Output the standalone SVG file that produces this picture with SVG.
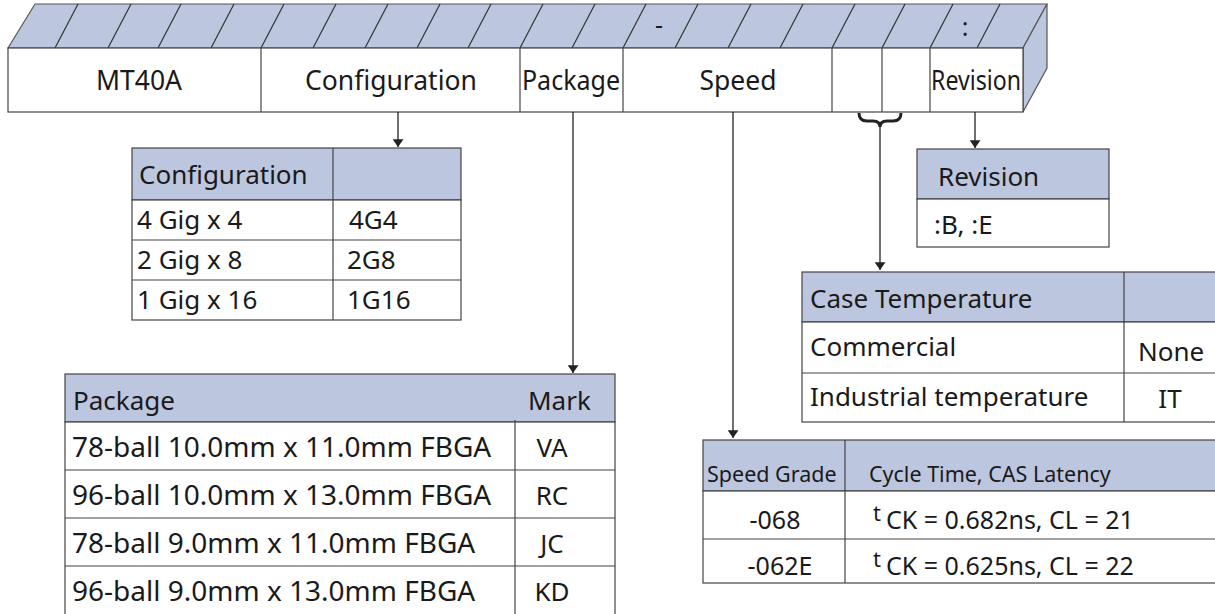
<svg xmlns="http://www.w3.org/2000/svg" width="1215" height="614" viewBox="0 0 1215 614">
<style>
  text { font-family: "Noto Sans", "Open Sans", sans-serif; fill: #1a1a1a; }
  .band { fill: #bdc6df; stroke: #555; stroke-width: 1.2; }
  .slash { stroke: #333; stroke-width: 1.2; fill: none; }
  .cell { fill: #ffffff; stroke: #444; stroke-width: 1.2; }
  .hdr { fill: #bdc6df; stroke: #444; stroke-width: 1.2; }
  .ln { stroke: #444; stroke-width: 1.2; fill: none; }
  .conn { stroke: #222; stroke-width: 1.3; fill: none; }
  .f25 { font-size: 25px; }
  .fb { font-size: 26.5px; }
  .f26 { font-size: 26px; }
  .f27 { font-size: 27px; }
  .f28 { font-size: 28px; }
  .f21 { font-size: 21.5px; }
  .mid { text-anchor: middle; }
</style>
<defs>
  <marker id="arr" viewBox="0 0 10 14" refX="10" refY="7" markerWidth="8" markerHeight="11" markerUnits="userSpaceOnUse" orient="auto">
    <path d="M0,0 L10,7 L0,14 Z" fill="#222"/>
  </marker>
</defs>

<g id="part-number-bar">
  <polygon class="band" points="8,48 35,4 1047,4 1023,48"/>
  <polygon class="band" points="1023,48 1047,4 1047,68 1023,112"/>
  <g class="slash">
    <line x1="55" y1="48" x2="78" y2="4"/>
    <line x1="108" y1="48" x2="131" y2="4"/>
    <line x1="158" y1="48" x2="181" y2="4"/>
    <line x1="211" y1="48" x2="234" y2="4"/>
    <line x1="261" y1="48" x2="284" y2="4"/>
    <line x1="313" y1="48" x2="336" y2="4"/>
    <line x1="365" y1="48" x2="388" y2="4"/>
    <line x1="417" y1="48" x2="440" y2="4"/>
    <line x1="468" y1="48" x2="491" y2="4"/>
    <line x1="520" y1="48" x2="543" y2="4"/>
    <line x1="572" y1="48" x2="595" y2="4"/>
    <line x1="623" y1="48" x2="646" y2="4"/>
    <line x1="675" y1="48" x2="698" y2="4"/>
    <line x1="728" y1="48" x2="751" y2="4"/>
    <line x1="780" y1="48" x2="803" y2="4"/>
    <line x1="832" y1="48" x2="855" y2="4"/>
    <line x1="882" y1="48" x2="905" y2="4"/>
    <line x1="930" y1="48" x2="953" y2="4"/>
    <line x1="977" y1="48" x2="1000" y2="4"/>
  </g>
  <text class="f25 mid" x="659" y="34">-</text>
  <text class="f25 mid" x="965" y="36">:</text>
  <rect class="cell" x="8" y="48" width="1015" height="64"/>
  <g class="ln">
    <line x1="261" y1="48" x2="261" y2="112"/>
    <line x1="520" y1="48" x2="520" y2="112"/>
    <line x1="623" y1="48" x2="623" y2="112"/>
    <line x1="832" y1="48" x2="832" y2="112"/>
    <line x1="882" y1="48" x2="882" y2="112"/>
    <line x1="930" y1="48" x2="930" y2="112"/>
  </g>
  <text class="fb mid" x="139" y="90">MT40A</text>
  <text class="fb mid" x="391" y="90">Configuration</text>
  <text class="fb mid" x="571" y="90" textLength="98" lengthAdjust="spacingAndGlyphs">Package</text>
  <text class="fb mid" x="738" y="90">Speed</text>
  <text class="fb mid" x="976" y="90" textLength="90" lengthAdjust="spacingAndGlyphs">Revision</text>
</g>

<g id="connectors">
  <line class="conn" x1="398" y1="112" x2="398" y2="147" marker-end="url(#arr)"/>
  <line class="conn" x1="573" y1="112" x2="573" y2="373" marker-end="url(#arr)"/>
  <line class="conn" x1="733" y1="112" x2="733" y2="438" marker-end="url(#arr)"/>
  <path d="M859,113 Q859,121 867,121 L873,121 Q880,121 880,127 Q880,121 887,121 L893,121 Q901,121 901,113" stroke="#222" stroke-width="3" fill="none"/>
  <line class="conn" x1="880" y1="127" x2="880" y2="270" marker-end="url(#arr)"/>
  <line class="conn" x1="975" y1="112" x2="975" y2="148" marker-end="url(#arr)"/>
</g>

<g id="configuration-table">
  <rect class="hdr" x="132" y="148" width="329" height="52"/>
  <rect class="cell" x="132" y="200" width="329" height="120"/>
  <g class="ln">
    <line x1="132" y1="240" x2="461" y2="240"/>
    <line x1="132" y1="280" x2="461" y2="280"/>
    <line x1="333" y1="148" x2="333" y2="320"/>
  </g>
  <text class="f26" x="139" y="184">Configuration</text>
  <text class="f26" x="137" y="229">4 Gig x 4</text>
  <text class="f26" x="137" y="269">2 Gig x 8</text>
  <text class="f26" x="137" y="309">1 Gig x 16</text>
  <text class="f26" x="349" y="229">4G4</text>
  <text class="f26" x="347" y="269">2G8</text>
  <text class="f26" x="347" y="309">1G16</text>
</g>

<g id="package-table">
  <rect class="hdr" x="65" y="374" width="550" height="48"/>
  <rect class="cell" x="65" y="422" width="550" height="220"/>
  <g class="ln">
    <line x1="65" y1="470" x2="615" y2="470"/>
    <line x1="65" y1="518" x2="615" y2="518"/>
    <line x1="65" y1="566" x2="615" y2="566"/>
    <line x1="515" y1="420" x2="515" y2="614"/>
  </g>
  <text class="f26" x="73" y="410">Package</text>
  <text class="f26" x="528" y="410">Mark</text>
  <text class="f28" x="72" y="457">78-ball 10.0mm x 11.0mm FBGA</text>
  <text class="f28" x="72" y="505">96-ball 10.0mm x 13.0mm FBGA</text>
  <text class="f28" x="72" y="553">78-ball 9.0mm x 11.0mm FBGA</text>
  <text class="f28" x="72" y="601">96-ball 9.0mm x 13.0mm FBGA</text>
  <text class="f26 mid" x="552" y="457">VA</text>
  <text class="f26 mid" x="552" y="505">RC</text>
  <text class="f26 mid" x="552" y="553">JC</text>
  <text class="f26 mid" x="552" y="601">KD</text>
</g>

<g id="speed-table">
  <rect class="hdr" x="703" y="440" width="520" height="51"/>
  <rect class="cell" x="703" y="491" width="520" height="92"/>
  <g class="ln">
    <line x1="703" y1="539" x2="1215" y2="539"/>
    <line x1="845" y1="440" x2="845" y2="583"/>
  </g>
  <text class="f21" x="707" y="482">Speed Grade</text>
  <text class="f21" x="869" y="482">Cycle Time, CAS Latency</text>
  <text class="f25 mid" x="775" y="529">-068</text>
  <text class="f25 mid" x="780" y="575">-062E</text>
  <text class="f25" x="873" y="529"><tspan font-size="22" dy="-8">t</tspan><tspan dx="5" dy="8">CK = 0.682ns, CL = 21</tspan></text>
  <text class="f25" x="873" y="575"><tspan font-size="22" dy="-8">t</tspan><tspan dx="5" dy="8">CK = 0.625ns, CL = 22</tspan></text>
</g>

<g id="case-temperature-table">
  <rect class="hdr" x="802" y="272" width="420" height="50"/>
  <rect class="cell" x="802" y="322" width="420" height="100"/>
  <g class="ln">
    <line x1="802" y1="373" x2="1215" y2="373"/>
    <line x1="1124" y1="272" x2="1124" y2="422"/>
  </g>
  <text class="f26" x="810" y="308">Case Temperature</text>
  <text class="f26" x="810" y="356">Commercial</text>
  <text class="f26" x="1138" y="361">None</text>
  <text class="f26" x="810" y="406">Industrial temperature</text>
  <text class="f26 mid" x="1170" y="408">IT</text>
</g>

<g id="revision-table">
  <rect class="hdr" x="917" y="149" width="192" height="50"/>
  <rect class="cell" x="917" y="199" width="192" height="48"/>
  <text class="f26" x="938" y="186">Revision</text>
  <text class="f26" x="934" y="234">:B, :E</text>
</g>
</svg>
